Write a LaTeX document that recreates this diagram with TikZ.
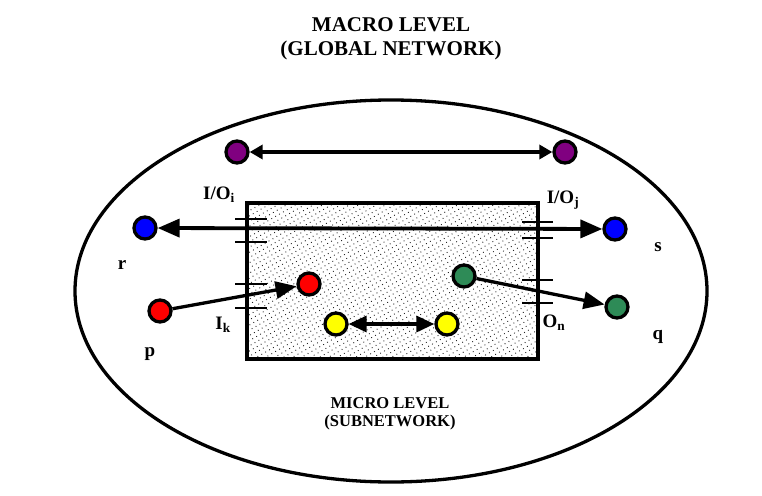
\documentclass[tikz,border=0pt]{standalone}
\usepackage{fontspec}
\setmainfont{Liberation Serif}
\usetikzlibrary{arrows.meta,patterns.meta}
\definecolor{npurple}{HTML}{800080}
\definecolor{nblue}{HTML}{0000FF}
\definecolor{nred}{HTML}{FF0000}
\definecolor{ngreen}{HTML}{2E8B57}
\definecolor{nyellow}{HTML}{FFFF00}
\tikzset{
  dotnode/.style={circle, draw=black, line width=3.3pt, minimum size=22pt, inner sep=0pt},
  conn/.style={line width=3.3pt, draw=black},
  tick/.style={line width=2pt},
  lbl/.style={font=\fontsize{19}{21}\selectfont\bfseries, inner sep=0pt},
  title/.style={font=\fontsize{21}{24}\selectfont\bfseries, align=center, inner sep=0pt},
  subtitle/.style={font=\fontsize{16.5}{18}\selectfont\bfseries, align=center, inner sep=0pt}
}
\begin{document}
\begin{tikzpicture}[x=1pt,y=-1pt]
\useasboundingbox (0,0) rectangle (762,495);
% titles
\node[title] (macro) at (391,39) {MACRO LEVEL\\(GLOBAL NETWORK)};
% outer ellipse
\draw[line width=3.3pt] (391,291) ellipse [x radius=316, y radius=191];
% subnetwork
\draw[line width=3.3pt, pattern={Dots[distance=4.5pt, radius=0.65pt, angle=30]}, pattern color=black!85] (247,203) rectangle (538,359);
\node[subtitle] (micro) at (390,414) {MICRO LEVEL\\(SUBNETWORK)};
% ticks
\foreach \y in {219,242,284,308} \draw[tick] (235,\y) -- (267,\y);
\foreach \y in {222,238,280,303} \draw[tick] (522,\y) -- (553,\y);
% nodes
\node[dotnode, fill=npurple] (pl) at (237,152) {};
\node[dotnode, fill=npurple] (pr) at (565,152) {};
\node[dotnode, fill=nblue] (r) at (145,228) {};
\node[dotnode, fill=nblue] (s) at (615,229) {};
\node[dotnode, fill=nred] (p) at (160,311) {};
\node[dotnode, fill=nred] (rin) at (309,284) {};
\node[dotnode, fill=ngreen] (gin) at (464,276) {};
\node[dotnode, fill=ngreen] (q) at (617,307) {};
\node[dotnode, fill=nyellow] (yl) at (336,324) {};
\node[dotnode, fill=nyellow] (yr) at (447,324) {};
% connectors
\draw[conn, {Triangle[length=13pt,width=14pt]}-{Triangle[length=13pt,width=14pt]}] (pl) -- (pr);
\draw[conn, line width=3.8pt, {Triangle[length=22pt,width=18pt]}-{Triangle[length=22pt,width=18pt]}] (r) -- (s);
\draw[conn, -{Triangle[length=21pt,width=17pt]}] (p) -- (rin);
\draw[conn, -{Triangle[length=21pt,width=17pt]}] (gin) -- (q);
\draw[conn, {Triangle[length=18pt,width=16pt]}-{Triangle[length=18pt,width=16pt]}] (yl) -- (yr);
% labels
\node[lbl] (lio) at (219,195) {I/O\textsubscript{i}};
\node[lbl] (lioj) at (563,200) {I/O\textsubscript{j}};
\node[lbl] (lr) at (122,265) {r};
\node[lbl] (ls) at (658,247) {s};
\node[lbl] (lp) at (150,354) {p};
\node[lbl] (lq) at (658,337) {q};
\node[lbl] (lik) at (223,325) {I\textsubscript{k}};
\node[lbl] (lon) at (554,323) {O\textsubscript{n}};
\end{tikzpicture}
\end{document}
